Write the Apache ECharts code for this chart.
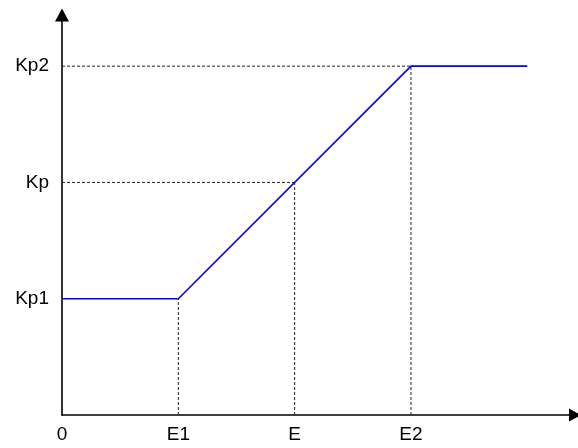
<!DOCTYPE html>
<html><head><meta charset="utf-8">
<script src="https://cdn.jsdelivr.net/npm/echarts@6/dist/echarts.min.js"></script>
<style>html,body{margin:0;padding:0;background:#fff}#c{width:578px;height:448px}</style>
</head><body><div id="c"></div>
<script>
// Tick labels
const xTickLabels = ['0', 'E1', 'E', 'E2'];
const yTickLabels = ['', 'Kp1', 'Kp', 'Kp2'];
// Piecewise Kp(E) curve
const curveE = [0, 1, 3, 4];
const curveKp = [1, 1, 3, 3];
// Guide (dashed) lines: [x1, y1, x2, y2]
const guideH = [[0, 3, 3, 3], [0, 2, 2, 2]];
const guideV = [[1, 0, 1, 1], [2, 0, 2, 2], [3, 0, 3, 3]];
const xMax = 4.41;
const yMax = 3.44;

const chart = echarts.init(document.getElementById('c'));
const guides = guideH.concat(guideV).map(g => ({
  type: 'line', data: [[g[0], g[1]], [g[2], g[3]]], symbol: 'none', silent: true,
  lineStyle: { color: '#222', width: 1, type: [3, 2] }, z: 1
}));
const fmt = labels => v => (Math.abs(v - Math.round(v)) < 1e-6 && labels[Math.round(v)] !== undefined) ? labels[Math.round(v)] : '';
chart.setOption({
  animation: false,
  grid: { left: 62, right: 3, top: 15, bottom: 33 },
  xAxis: {
    type: 'value', min: 0, max: xMax, interval: 1,
    axisLine: { show: true, symbol: ['none', 'triangle'], symbolSize: [13, 12], lineStyle: { color: '#000', width: 1.6 } },
    axisTick: { show: false }, splitLine: { show: false },
    axisLabel: { margin: 10, color: '#000', fontSize: 19, fontFamily: 'Liberation Sans, Arial, sans-serif',
      showMaxLabel: false, formatter: fmt(xTickLabels) }
  },
  yAxis: {
    type: 'value', min: 0, max: yMax, interval: 1,
    axisLine: { show: true, symbol: ['none', 'triangle'], symbolSize: [14, 13], lineStyle: { color: '#000', width: 1.6 } },
    axisTick: { show: false }, splitLine: { show: false },
    axisLabel: { margin: 13, color: '#000', fontSize: 19, fontFamily: 'Liberation Sans, Arial, sans-serif',
      showMaxLabel: false, formatter: fmt(yTickLabels) }
  },
  series: guides.concat([{
    type: 'line', data: curveE.map((e, i) => [e, curveKp[i]]), symbol: 'none',
    lineStyle: { color: '#0000ff', width: 1.6 }, z: 5
  }])
});
</script></body></html>
